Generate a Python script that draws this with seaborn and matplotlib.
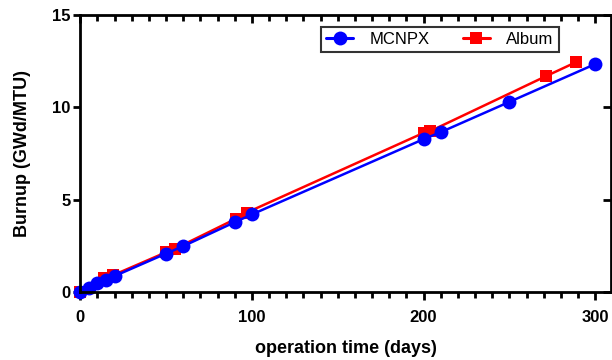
import matplotlib
matplotlib.use("Agg")
import matplotlib.pyplot as plt
import seaborn as sns
import pandas as pd
from matplotlib.ticker import MultipleLocator
from matplotlib.lines import Line2D

# data
mcnpx_days = [0, 5, 10, 15, 20, 50, 60, 90, 100, 200, 210, 250, 300]
mcnpx_burnup = [0, 0.24, 0.47, 0.66, 0.86, 2.08, 2.48, 3.78, 4.2, 8.28, 8.66, 10.3, 12.35]
album_days = [0, 14, 19, 50, 55, 91, 97, 200, 204, 271, 289]
album_burnup = [0, 0.74, 0.9, 2.15, 2.33, 3.98, 4.3, 8.62, 8.72, 11.68, 12.46]

x_ticks = [0, 100, 200, 300]
y_ticks = [0, 5, 10, 15]

df_m = pd.DataFrame({"days": mcnpx_days, "burnup": mcnpx_burnup})
df_a = pd.DataFrame({"days": album_days, "burnup": album_burnup})

sns.set_style("ticks")
plt.rcParams["font.family"] = ["Liberation Sans", "DejaVu Sans"]
plt.rcParams["text.color"] = "black"
plt.rcParams["axes.labelcolor"] = "black"
plt.rcParams["xtick.color"] = "black"
plt.rcParams["ytick.color"] = "black"
plt.rcParams["axes.edgecolor"] = "black"

fig = plt.figure(figsize=(6.12, 3.6), dpi=100)
ax = fig.add_axes([0.131, 0.189, 0.867, 0.769])

blue = "#0000ff"
red = "#ff0000"

# red first so blue sits on top, like the reference
sns.lineplot(data=df_a, x="days", y="burnup", ax=ax, color=red, marker="s",
             markersize=9, markeredgewidth=0, linewidth=1.8, sort=False, clip_on=False)
sns.lineplot(data=df_m, x="days", y="burnup", ax=ax, color=blue, marker="o",
             markersize=10, markeredgewidth=0, linewidth=1.8, sort=False, clip_on=False)

ax.set_xlim(0, 309)
ax.set_ylim(0, 15)
ax.set_xticks(x_ticks)
ax.set_yticks(y_ticks)
ax.xaxis.set_minor_locator(MultipleLocator(10))

for s in ["left", "bottom"]:
    ax.spines[s].set_linewidth(2)
ax.spines["top"].set_visible(False)
ax.spines["right"].set_visible(False)

ax.tick_params(axis="x", which="major", direction="out", length=6, width=2,
               labelsize=12, pad=7)
ax.tick_params(axis="x", which="minor", direction="out", length=4, width=2)
ax.tick_params(axis="y", which="major", direction="out", length=5, width=2,
               labelsize=12, pad=2)
for lab in ax.get_xticklabels() + ax.get_yticklabels():
    lab.set_fontweight("bold")

# top and right axes with ticks pointing inward
top = ax.secondary_xaxis("top")
top.set_xticks(x_ticks)
top.xaxis.set_minor_locator(MultipleLocator(10))
top.tick_params(which="major", direction="in", length=6, width=2, labeltop=False)
top.tick_params(which="minor", direction="in", length=4, width=2)
top.spines["top"].set_linewidth(2)

right = ax.secondary_yaxis("right")
right.set_yticks(y_ticks)
right.tick_params(which="major", direction="in", length=6, width=2, labelright=False)
right.spines["right"].set_linewidth(2)

ax.set_xlabel("operation time (days)", fontsize=13, fontweight="bold", labelpad=11)
ax.set_ylabel("Burnup (GWd/MTU)", fontsize=13, fontweight="bold", labelpad=15)

handles = [
    Line2D([], [], color=blue, marker="o", markersize=10, markeredgewidth=0, linewidth=2.2),
    Line2D([], [], color=red, marker="s", markersize=9, markeredgewidth=0, linewidth=2.2),
]
leg = ax.legend(handles, ["MCNPX", "Album"], ncol=2, loc="upper right",
                bbox_to_anchor=(0.902, 0.957), frameon=True, fancybox=False,
                fontsize=12, handlelength=1.6, columnspacing=2.0,
                handletextpad=1.0, borderpad=0.3, borderaxespad=0)
leg.get_frame().set_edgecolor("black")
leg.get_frame().set_linewidth(1.5)

fig.savefig("out.png", dpi=100)
